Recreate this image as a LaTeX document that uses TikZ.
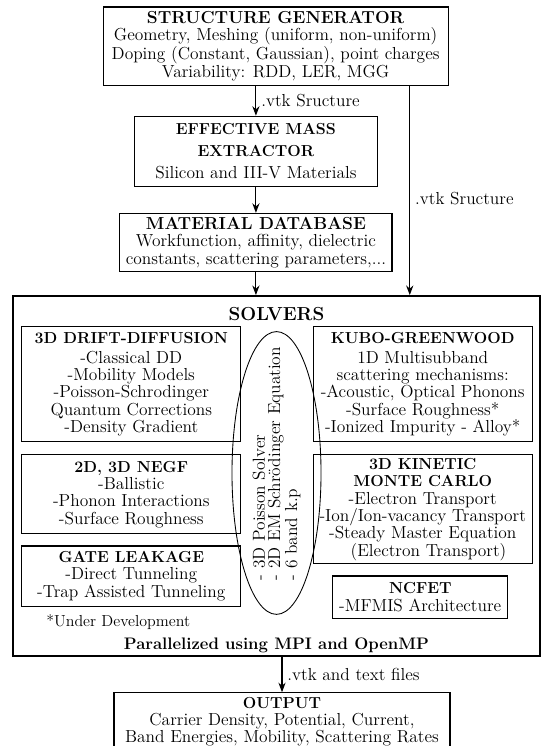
\documentclass[tikz,border=0pt]{standalone}
\usepackage{tikz}
\usetikzlibrary{shapes.geometric, arrows.meta, positioning}

\newcommand{\bodyfont}{\fontsize{12}{12}\selectfont}
\newcommand{\mainttl}{\fontsize{12}{12}\selectfont\bfseries}
\newcommand{\subttl}{\fontsize{11}{12}\selectfont\bfseries}

\tikzset{
    % boxes of the tool chain
    mainbox/.style = {rectangle, draw, thick, align=center, inner xsep=1pt, inner ysep=2pt, font=\bodyfont},
    solverbox/.style = {rectangle, draw, thick, align=center, inner xsep=0pt, inner ysep=1pt, minimum width=151.1pt, font=\bodyfont},
    arrow/.style = {thick,->,>=Stealth}
}

\begin{document}
\begin{tikzpicture}[font=\bodyfont]

\useasboundingbox (-190.1pt,31.75pt) rectangle (185.1pt,-482.75pt);

% Nodes
\node[mainbox, minimum width=238pt, minimum height=53.9pt] (gen) {{\mainttl STRUCTURE GENERATOR}\\Geometry, Meshing (uniform, non-uniform)\\Doping (Constant, Gaussian), point charges\\Variability: RDD, LER, MGG};
\node[mainbox, minimum width=167.7pt, minimum height=48.3pt, below=20.7pt of gen, xshift=-13.6pt] (emx) {{\subttl EFFECTIVE MASS}\\[3pt]{\subttl EXTRACTOR}\\[3pt]Silicon and III-V Materials};
\node[mainbox, minimum width=187.7pt, minimum height=40pt, below=17.9pt of emx] (mdb) {{\mainttl MATERIAL DATABASE}\\Workfunction, affinity, dielectric\\constants, scattering parameters,...};
\node[rectangle, draw, line width=1pt, minimum width=363.6pt, minimum height=248.4pt, below=15.9pt of mdb, xshift=14.2pt] (solvers) {};
\node[font=\fontsize{13}{13}\selectfont\bfseries] (solvers_title) at ([yshift=-13pt]solvers.north) {SOLVERS};

% Solvers, left column
\node[solverbox, minimum height=79.3pt, below right=21.4pt and 6.2pt of solvers.north west] (dd) {{\subttl 3D DRIFT-DIFFUSION}\\[1.8pt]-Classical DD\\-Mobility Models\\-Poisson-Schrodinger\\Quantum Corrections\\-Density Gradient};
\node[solverbox, minimum height=54.5pt, below=8.3pt of dd] (negf) {{\subttl 2D, 3D NEGF}\\-Ballistic\\-Phonon Interactions\\-Surface Roughness};
\node[solverbox, minimum height=41.4pt, below=7.6pt of negf] (gate) {{\subttl GATE LEAKAGE}\\-Direct Tunneling\hspace*{18pt}\\-Trap Assisted Tunneling};
\node[font=\fontsize{11}{12}\selectfont, below=2pt of gate, xshift=-9pt] (devnote) {*Under Development};

% Solvers, right column
\node[solverbox, minimum height=79.3pt, below left=21.4pt and 5.5pt of solvers.north east] (kubo) {{\subttl KUBO-GREENWOOD}\\[1.8pt]1D Multisubband\\scattering mechanisms:\\-Acoustic, Optical Phonons\\-Surface Roughness*\\-Ionized Impurity - Alloy*};
\node[solverbox, minimum height=75.2pt, below=8.3pt of kubo] (kmc) {{\subttl 3D KINETIC}\\{\subttl MONTE CARLO}\\-Electron Transport\\-Ion/Ion-vacancy Transport\\-Steady Master Equation\\\hspace*{8pt}(Electron Transport)};
\node[solverbox, minimum width=120.7pt, minimum height=29pt, below=7.6pt of kmc, xshift=-1.7pt] (ncfet) {{\subttl NCFET}\\[1pt]-MFMIS Architecture};

% Poisson solver in the middle
\node[draw, semithick, ellipse, minimum width=61.4pt, minimum height=195pt] (poisson) at ([yshift=2pt]solvers.center) {};
\node[rotate=90, align=left, font=\fontsize{12}{10.5}\selectfont] (poisson_text) at ([yshift=6.5pt]poisson.center) {- 3D Poisson Solver\\- 2D EM Schrödinger Equation\\- 6 band k.p};

\node[font=\fontsize{11.5}{12}\selectfont\bfseries, anchor=base] (parallel) at ([yshift=5pt]solvers.south) {Parallelized using MPI and OpenMP};

\node[mainbox, inner ysep=1pt, minimum width=231.8pt, minimum height=40pt, font=\fontsize{12}{11.5}\selectfont, below=24.5pt of solvers, xshift=3.8pt] (output) {{\subttl OUTPUT}\\Carrier Density, Potential, Current,\\Band Energies, Mobility, Scattering Rates};

% Arrows
\coordinate (vtk_split) at ([xshift=-26.9pt]gen.south east);
\draw[arrow] (gen.south -| emx.north) -- node[right] {.vtk Sructure} (emx.north);
\draw[arrow] (emx) -- (mdb);
\draw[arrow] (mdb) -- (mdb |- solvers.north);
\draw[arrow] (vtk_split) -- node[right, pos=0.54] {.vtk Sructure} (vtk_split |- solvers.north);
\draw[arrow] (output.north |- solvers.south) -- node[right] {.vtk and text files} (output);

\end{tikzpicture}
\end{document}
